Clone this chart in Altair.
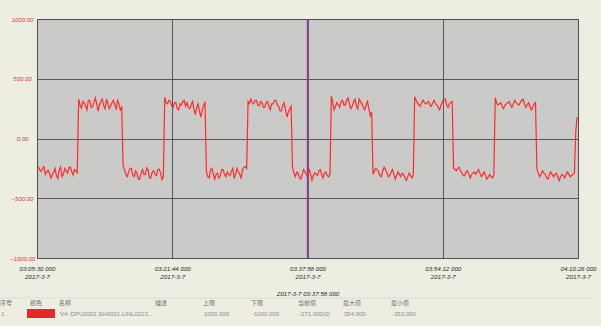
import altair as alt
import pandas as pd

# ---------------- data ----------------
tick_seconds = [0, 974, 1948, 2922, 3896]
tick_times = ["03:05:30 000", "03:21:44 000", "03:37:58 000", "03:54:12 000", "04:10:26 000"]
tick_date = "2017-3-7"
cursor_label = "2017-3-7 03:37:58 000"
cursor_second = 1948
sample_step = 10  # seconds between samples
y_ticks = [-1000, -500, 0, 500, 1000]

seg_low_1 = [-255, -240, -262, -275, -250, -235, -300, -280, -265, -290, -330, -300, -280, -250, -310,
             -335, -265, -240, -320, -300, -250, -270, -290, -245, -240, -275, -305, -260, -270, -285]
seg_high_1 = [330, 280, 255, 310, 300, 270, 240, 320, 320, 260, 265, 300, 340, 290, 230, 280,
              310, 330, 275, 250, 325, 300, 250, 270, 300, 320, 280, 250, 320, 290, 240, 260]
seg_low_2 = [-230, -260, -300, -320, -280, -250, -250, -310, -320, -270, -290, -340, -340, -290, -260,
             -300, -300, -245, -260, -330, -330, -280, -270, -300, -310, -260, -255, -290, -345, -320]
seg_high_2 = [345, 300, 290, 320, 310, 270, 260, 300, 300, 250, 240, 290, 280, 310, 320,
              270, 300, 260, 250, 280, 310, 250, 200, 260, 290, 230, 180, 240, 280, 300]
seg_low_3 = [-280, -320, -330, -260, -250, -300, -340, -300, -290, -330, -310, -260, -260, -300, -320,
             -280, -300, -310, -275, -250, -335, -300, -250, -280, -300, -330, -260, -240, -235, -250]
seg_high_3 = [310, 290, 330, 300, 290, 320, 320, 280, 275, 310, 300, 260, 260, 300, 310, 270,
              240, 290, 290, 320, 320, 280, 270, 230, 230, 280, 300, 240, 180, 220, 250, 270]
seg_low_4 = [-240, -290, -320, -280, -290, -330, -340, -300, -260, -280, -300, -320, -255, -300,
             -350, -310, -285, -300, -310, -270, -260, -300, -330, -290, -280, -310, -320, -300]
seg_high_4 = [354, 300, 240, 270, 300, 280, 260, 310, 320, 280, 280, 320, 340, 290, 250,
              270, 310, 330, 270, 250, 330, 310, 290, 260, 240, 280, 310, 250, 190, 220]
seg_low_5 = [-300, -270, -250, -260, -280, -310, -320, -270, -240, -260, -290, -320, -310, -280, -260,
             -300, -340, -310, -280, -300, -320, -290, -300, -330, -350, -320, -290, -310, -330, -300]
seg_high_5 = [350, 320, 300, 280, 270, 300, 320, 300, 290, 300, 310, 280, 270, 300,
              320, 290, 280, 260, 240, 280, 310, 330, 330, 280, 260, 290, 300, 310]
seg_low_6 = [-250, -260, -270, -250, -240, -270, -290, -310, -310, -280, -270, -300, -330, -300, -290,
             -280, -300, -280, -260, -290, -320, -300, -280, -310, -340, -320, -300, -320, -330, -310]
seg_high_6 = [340, 300, 280, 290, 300, 270, 250, 280, 290, 300, 310, 280, 260, 290, 320,
              300, 290, 280, 300, 320, 330, 290, 260, 280, 300, 270, 240, 260, 290, 300]
seg_low_7 = [-250, -290, -320, -300, -270, -290, -300, -330, -340, -300, -280, -300, -320, -300,
             -290, -320, -353, -320, -300, -310, -330, -300, -280, -300, -320, -310, -300, -290]
seg_end = [60, 180]

headers = ["序号", "颜色", "名称", "描述", "上限", "下限", "当前值", "最大值", "最小值"]
row_values = ["1", "", "V4::DPU2001.SH0001.LINL0213...", "", "1000.000", "-1000.000",
              "-271.000(0)", "354.000", "-353.000"]

# ---------------- build table ----------------
segments = [seg_low_1, seg_high_1, seg_low_2, seg_high_2, seg_low_3, seg_high_3, seg_low_4,
            seg_high_4, seg_low_5, seg_high_5, seg_low_6, seg_high_6, seg_low_7, seg_end]
values = [v for seg in segments for v in seg]
seconds = [i * sample_step for i in range(len(values))]
df = pd.DataFrame({"t": seconds, "v": values})

# ---------------- layout ----------------
W, H = 541, 239
PAD_L, PAD_T, PAD_R, PAD_B = 37, 19, 23, 68
FONT = "Liberation Sans"
CJK = "Noto Sans CJK SC"

label_expr = " : ".join(
    f"datum.value == {s} ? ['{t}', '{tick_date}']" for s, t in zip(tick_seconds, tick_times)
) + " : ''"

x_enc = alt.X(
    "t:Q",
    scale=alt.Scale(domain=[tick_seconds[0], tick_seconds[-1]], nice=False, zero=False),
    axis=alt.Axis(
        values=tick_seconds, labelExpr=label_expr, grid=True, gridColor="#4a4a4a",
        gridWidth=0.9, domain=False, ticks=False, labelFont=FONT, labelFontSize=6.2,
        labelFontStyle="italic", labelColor="#2a2a2a", labelPadding=7, labelLineHeight=8.5,
        labelOverlap=False, labelFlush=False,
        title=cursor_label, titleFont=FONT, titleFontSize=6.2, titleFontStyle="italic",
        titleFontWeight="normal", titleColor="#2a2a2a", titleY=35, titleBaseline="middle",
    ),
)
y_enc = alt.Y(
    "v:Q",
    scale=alt.Scale(domain=[y_ticks[0], y_ticks[-1]], nice=False),
    axis=alt.Axis(
        values=y_ticks, format=".2f", grid=True, gridColor="#4a4a4a", gridWidth=0.9,
        domain=False, ticks=False, labelFont=FONT, labelFontSize=6, labelFontStyle="italic",
        labelColor="#e0393a", labelAlign="center", labelPadding=15, labelBaseline="middle",
        labelFlush=False, labelOverlap=False, title=None,
    ),
)

line = alt.Chart(df).mark_line(color="#ff2b2b", strokeWidth=1.2, clip=True).encode(x=x_enc, y=y_enc)

one = alt.Data(values=[{}])
cursor = alt.Chart(one).mark_rule(color="#9440a8", strokeWidth=1.5).encode(x=alt.datum(cursor_second))

layers = [line, cursor]

# table below the chart (positions relative to plot origin)
col_x = [0, 30, 59, 155, 203, 251, 298, 343, 391]
header_y = 284
row_y = 295
sep = alt.Chart(one).mark_rule(color="#d9d9cf", strokeWidth=0.8).encode(
    x=alt.value(-37), x2=alt.value(556), y=alt.value(279))
layers.append(sep)
for cx, h in zip(col_x, headers):
    layers.append(alt.Chart(one).mark_text(
        text=h, font=CJK, fontSize=6, color="#707070", align="left", baseline="middle"
    ).encode(x=alt.value(cx - PAD_L), y=alt.value(header_y)))
for cx, r in zip(col_x, row_values):
    if r:
        layers.append(alt.Chart(one).mark_text(
            text=r, font=FONT, fontSize=6, color="#8a8a8a", align="left", baseline="middle"
        ).encode(x=alt.value(cx - PAD_L + 1), y=alt.value(row_y)))
swatch = alt.Chart(one).mark_rect(color="#e8262b").encode(
    x=alt.value(27 - PAD_L), x2=alt.value(55 - PAD_L), y=alt.value(290), y2=alt.value(299))
layers.append(swatch)

chart = alt.layer(*layers).properties(
    width=W, height=H,
    autosize=alt.AutoSizeParams(type="none"),
    padding={"left": PAD_L, "top": PAD_T, "right": PAD_R, "bottom": PAD_B},
    background="#eeede2",
).configure_view(fill="#cacac8", stroke="#6a6a6a", strokeWidth=1)

chart.save("out.html", embed_options={"renderer": "svg", "actions": False})
